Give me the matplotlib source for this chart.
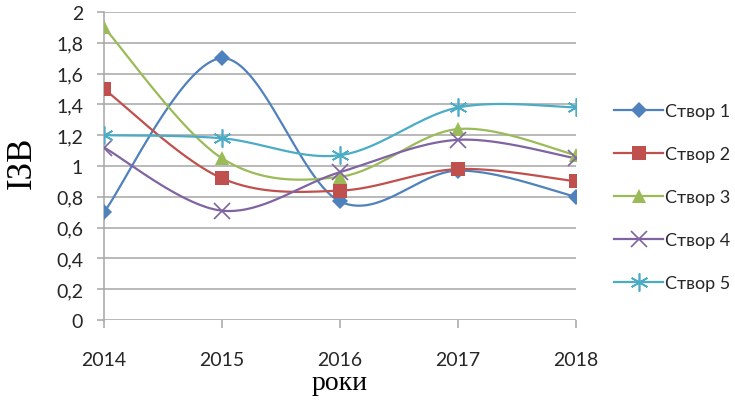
import numpy as np
import matplotlib
matplotlib.use('Agg')
import matplotlib.pyplot as plt

# values
years = [2014, 2015, 2016, 2017, 2018]
stvor_1 = [0.70, 1.70, 0.77, 0.97, 0.80]
stvor_2 = [1.50, 0.92, 0.84, 0.98, 0.90]
stvor_3 = [1.90, 1.05, 0.93, 1.24, 1.07]
stvor_4 = [1.12, 0.71, 0.96, 1.17, 1.05]
stvor_5 = [1.20, 1.18, 1.07, 1.38, 1.38]
labels = ['Створ 1', 'Створ 2', 'Створ 3', 'Створ 4', 'Створ 5']
yticks = [0, 0.2, 0.4, 0.6, 0.8, 1, 1.2, 1.4, 1.6, 1.8, 2]

colors = ['#4F81BD', '#C0504D', '#9BBB59', '#8064A2', '#4BACC6']
markers = ['D', 's', '^', 'x', (6, 2, 0)]
msizes = [8, 10, 10, 11, 13]
FONT = 'Lato'
FS = 14


def smooth(x, y, n=40):
    # Excel-style smoothed line: cubic Bezier through each point pair
    x = np.asarray(x, float)
    y = np.asarray(y, float)
    px = np.concatenate([[x[0]], x, [x[-1]]])
    py = np.concatenate([[y[0]], y, [y[-1]]])
    t = np.linspace(0, 1, n)
    xs, ys = [], []
    for i in range(len(x) - 1):
        p0 = np.array([px[i + 1], py[i + 1]])
        p3 = np.array([px[i + 2], py[i + 2]])
        p1 = p0 + (p3 - np.array([px[i], py[i]])) / 6
        p2 = p3 - (np.array([px[i + 3], py[i + 3]]) - p0) / 6
        b = ((1 - t) ** 3)[:, None] * p0 + (3 * (1 - t) ** 2 * t)[:, None] * p1 \
            + (3 * (1 - t) * t ** 2)[:, None] * p2 + (t ** 3)[:, None] * p3
        xs.append(b[:, 0])
        ys.append(b[:, 1])
    return np.concatenate(xs), np.concatenate(ys)


fig = plt.figure(figsize=(7.35, 4.06), dpi=100)
ax = fig.add_axes([104 / 735, 1 - 321 / 406, 472 / 735, 308 / 406])

grid_c = '#A6A6A6'
for yv in yticks:
    ax.axhline(yv, color=grid_c, lw=1.1, zorder=1)

series = [stvor_1, stvor_2, stvor_3, stvor_4, stvor_5]
for vals, lab, c, m, ms in zip(series, labels, colors, markers, msizes):
    sx, sy = smooth(years, vals)
    ax.plot(sx, sy, color=c, lw=1.6, zorder=3)
    mew = 1.2 if m in ('x',) or isinstance(m, tuple) else 0
    ax.plot(years, vals, linestyle='none', marker=m, ms=ms, color=c,
            mec=c, mew=mew, zorder=4)
    ax.plot([], [], color=c, lw=1.6, marker=m, ms=ms, mec=c, mew=mew, label=lab)

ax.set_xlim(2014, 2018)
ax.set_ylim(0, 2)
ax.set_xticks(years)
ax.set_yticks(yticks)
ax.set_yticklabels([('%g' % v).replace('.', ',') for v in yticks])
for s in ['top', 'right', 'bottom']:
    ax.spines[s].set_visible(False)
ax.spines['left'].set_color(grid_c)
ax.spines['left'].set_linewidth(1.1)
ax.tick_params(axis='y', length=5, width=1.1, color=grid_c, pad=10,
               labelsize=FS, labelcolor='#262626')
ax.tick_params(axis='x', length=6, width=1.1, color=grid_c, pad=16,
               labelsize=FS, labelcolor='#262626')
for lbl in ax.get_xticklabels() + ax.get_yticklabels():
    lbl.set_family(FONT)

ax.set_ylabel('ІЗВ', family='Liberation Serif', fontsize=25, va='center')
ax.yaxis.set_label_coords(-0.173, 0.513)
ax.set_xlabel('роки', family='Liberation Serif', fontsize=20, labelpad=2)

leg = fig.legend(loc='center left', bbox_to_anchor=(598 / 735, 1 - 198 / 406),
                 frameon=False, handlelength=2.7, handletextpad=0.1,
                 labelspacing=1.5, prop={'family': FONT, 'size': 13})
for t in leg.get_texts():
    t.set_color('#262626')

fig.savefig('out.png', dpi=100)
